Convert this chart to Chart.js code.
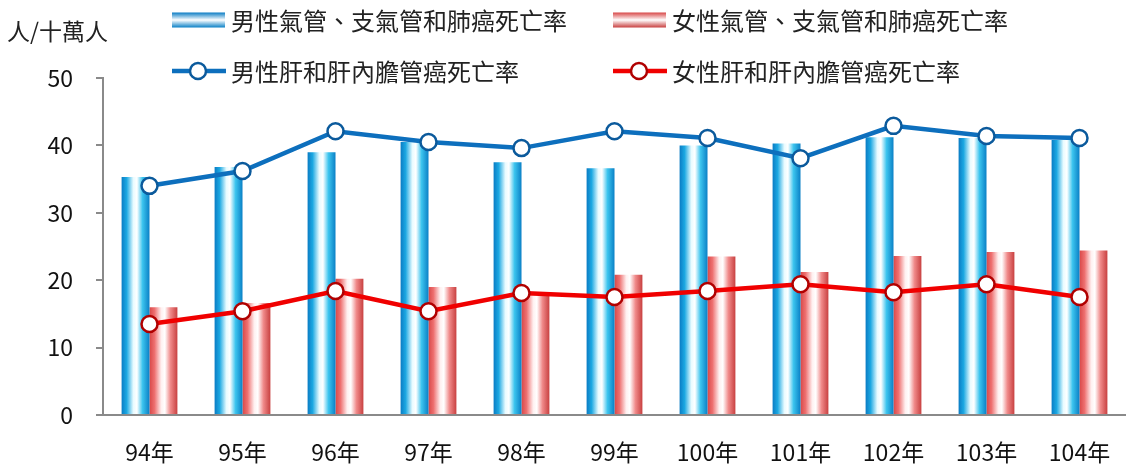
<!DOCTYPE html>
<html>
<head>
<meta charset="utf-8">
<script src="https://cdn.jsdelivr.net/npm/chart.js@4"></script>
<style>
  html, body { margin: 0; padding: 0; background: #fff; }
  #wrap { width: 1126px; height: 468px; position: relative; }
</style>
</head>
<body>
<div id="wrap"><canvas id="chart"></canvas></div>
<script>
const years = ['94年', '95年', '96年', '97年', '98年', '99年', '100年', '101年', '102年', '103年', '104年'];
const maleLung = [35.3, 36.8, 39.0, 40.5, 37.5, 36.6, 40.0, 40.3, 41.2, 41.1, 40.8];
const femaleLung = [16.0, 16.6, 20.2, 19.0, 17.8, 20.8, 23.5, 21.2, 23.6, 24.2, 24.4];
const maleLiver = [34.0, 36.2, 42.1, 40.5, 39.6, 42.1, 41.1, 38.1, 42.9, 41.4, 41.1];
const femaleLiver = [13.5, 15.4, 18.4, 15.4, 18.1, 17.5, 18.4, 19.4, 18.2, 19.4, 17.5];
const yTicks = [0, 10, 20, 30, 40, 50];
const yTitle = '人/十萬人';

const FONT = '"Noto Sans CJK TC", "Noto Sans", sans-serif';

// stops for the cylinder look of each bar
const blueStops = [[0, '#0a7cc4'], [0.18, '#1ca8e2'], [0.42, '#e8fbff'], [0.55, '#ffffff'], [0.75, '#3cc4ee'], [1, '#0a80c6']];
const redStops = [[0, '#d84848'], [0.18, '#ee7070'], [0.42, '#fff0f0'], [0.55, '#ffffff'], [0.75, '#f08a8a'], [1, '#c84040']];

function cylinder(ctx, x0, x1, stops) {
  const g = ctx.createLinearGradient(x0, 0, x1, 0);
  stops.forEach(s => g.addColorStop(s[0], s[1]));
  return g;
}

// give every bar its own horizontal gradient (options are shared, so copy them)
const barShade = {
  id: 'barShade',
  beforeDatasetDraw(chart, args) {
    const ds = chart.data.datasets[args.index];
    if (ds.type !== 'bar') return;
    const ctx = chart.ctx;
    args.meta.data.forEach(el => {
      const x0 = el.x - el.width / 2, x1 = el.x + el.width / 2;
      el.options = Object.assign({}, el.options, { backgroundColor: cylinder(ctx, x0, x1, ds.stops) });
    });
  }
};

// legend in two rows / two columns plus the unit label
const legendBox = {
  id: 'legendBox',
  afterDraw(chart) {
    const ctx = chart.ctx;
    const ds = chart.data.datasets;
    ctx.save();
    ctx.textBaseline = 'middle';
    ctx.fillStyle = '#222';
    ctx.font = '23px ' + FONT;
    ctx.fillText(yTitle, 7, 31);

    ctx.font = '24px ' + FONT;
    const spots = [[172, 20], [613, 20], [172, 71], [613, 71]];
    ds.forEach((d, i) => {
      const [x, y] = spots[i];
      if (d.type === 'bar') {
        const g = ctx.createLinearGradient(0, y - 7.5, 0, y + 7.5);
        const c = d.stops;
        g.addColorStop(0, c[0][1]); g.addColorStop(0.5, '#ffffff'); g.addColorStop(1, c[5][1]);
        ctx.fillStyle = g;
        ctx.fillRect(x, y - 7.5, 53, 15);
      } else {
        ctx.strokeStyle = d.borderColor;
        ctx.lineWidth = 4.5;
        ctx.beginPath(); ctx.moveTo(x, y); ctx.lineTo(x + 54, y); ctx.stroke();
        ctx.beginPath(); ctx.arc(x + 26, y, 8, 0, Math.PI * 2);
        ctx.fillStyle = '#fff'; ctx.fill();
        ctx.lineWidth = 2.5; ctx.strokeStyle = d.pointBorderColor; ctx.stroke();
      }
      ctx.fillStyle = '#222';
      ctx.fillText(d.label, x + 59, y + 1);
    });
    ctx.restore();
  }
};

new Chart(document.getElementById('chart'), {
  data: {
    labels: years,
    datasets: [
      { type: 'bar', label: '男性氣管、支氣管和肺癌死亡率', data: maleLung, stops: blueStops,
        backgroundColor: '#1ca8e2', categoryPercentage: 0.6, barPercentage: 1.0, order: 2 },
      { type: 'bar', label: '女性氣管、支氣管和肺癌死亡率', data: femaleLung, stops: redStops,
        backgroundColor: '#ee7070', categoryPercentage: 0.6, barPercentage: 1.0, order: 2 },
      { type: 'line', label: '男性肝和肝內膽管癌死亡率', data: maleLiver,
        borderColor: '#0d6fbd', borderWidth: 4.5, pointRadius: 8, pointBorderWidth: 2.5,
        pointBackgroundColor: '#ffffff', pointBorderColor: '#0b5a9c', tension: 0, order: 1 },
      { type: 'line', label: '女性肝和肝內膽管癌死亡率', data: femaleLiver,
        borderColor: '#f00000', borderWidth: 4.5, pointRadius: 8, pointBorderWidth: 2.5,
        pointBackgroundColor: '#ffffff', pointBorderColor: '#b00000', tension: 0, order: 1 }
    ]
  },
  options: {
    responsive: true,
    maintainAspectRatio: false,
    animation: false,
    layout: { autoPadding: false, padding: { top: 78, right: 0, left: 0, bottom: 0 } },
    plugins: { legend: { display: false }, tooltip: { enabled: false } },
    scales: {
      x: {
        grid: { display: false },
        border: { display: true, color: '#8a8a8a', width: 2 },
        ticks: { color: '#111', font: { family: FONT, size: 23 }, padding: 15 },
        afterFit(scale) { scale.height = 53; scale.paddingLeft = 0; scale.paddingRight = 0; }
      },
      y: {
        min: 0, max: 50,
        afterBuildTicks(scale) { scale.ticks = yTicks.map(v => ({ value: v })); },
        grid: { drawOnChartArea: false, drawTicks: true, tickLength: 7, color: '#8a8a8a', lineWidth: 2 },
        border: { display: true, color: '#8a8a8a', width: 2 },
        ticks: { color: '#111', font: { family: FONT, size: 23 }, padding: 23 },
        afterFit(scale) { scale.width = 103; }
      }
    }
  },
  plugins: [barShade, legendBox]
});
</script>
</body>
</html>
